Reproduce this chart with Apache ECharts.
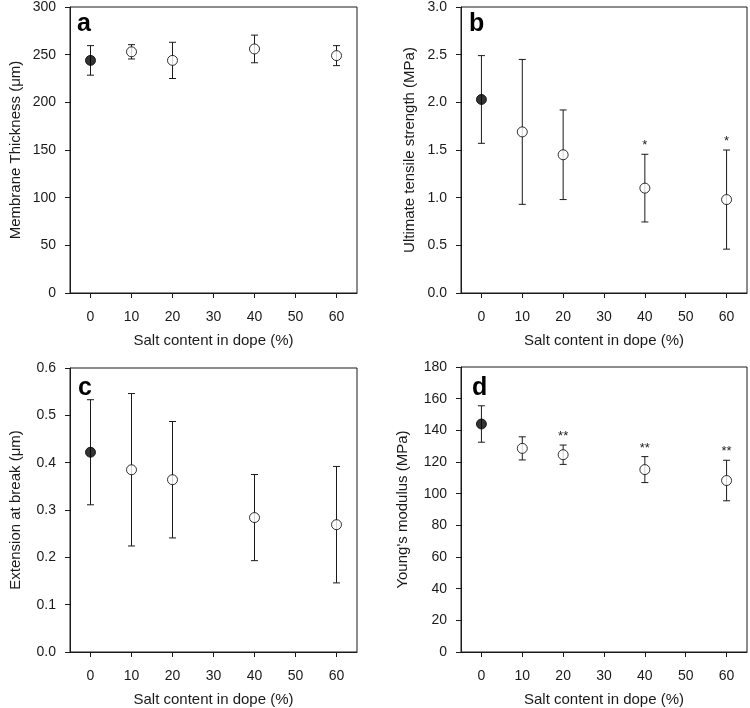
<!DOCTYPE html>
<html>
<head>
<meta charset="utf-8">
<script src="https://cdn.jsdelivr.net/npm/echarts@6/dist/echarts.min.js"></script>
<style>html,body{margin:0;padding:0;background:#fff}#main{width:750px;height:708px}</style>
</head>
<body>
<div id="main"></div>
<script>
// ---- data ----
const saltContent = [0, 10, 20, 40, 60];
const xTicks = [0, 10, 20, 30, 40, 50, 60];

const thicknessMean = [244, 253, 244, 256, 249];
const thicknessErr  = [15.5, 7.5, 19, 14.5, 10.5];
const thicknessSig  = ['', '', '', '', ''];

const utsMean = [2.03, 1.69, 1.45, 1.10, 0.98];
const utsErr  = [0.46, 0.76, 0.47, 0.355, 0.52];
const utsSig  = ['', '', '', '*', '*'];

const extMean = [0.422, 0.385, 0.364, 0.284, 0.269];
const extErr  = [0.111, 0.161, 0.123, 0.091, 0.123];
const extSig  = ['', '', '', '', ''];

const ymMean = [144, 128.6, 124.6, 115.2, 108.3];
const ymErr  = [11.5, 7.3, 6.1, 8.2, 12.8];
const ymSig  = ['', '', '**', '**', '**'];

const xTitle = 'Salt content in dope (%)';
const panels = [
  {letter: 'a', yName: 'Membrane Thickness (\u03bcm)', mean: thicknessMean, err: thicknessErr, sig: thicknessSig, yMax: 300, yInt: 50, dec: 0},
  {letter: 'b', yName: 'Ultimate tensile strength (MPa)', mean: utsMean, err: utsErr, sig: utsSig, yMax: 3, yInt: 0.5, dec: 1},
  {letter: 'c', yName: 'Extension at break (\u03bcm)', mean: extMean, err: extErr, sig: extSig, yMax: 0.6, yInt: 0.1, dec: 1},
  {letter: 'd', yName: "Young's modulus (MPa)", mean: ymMean, err: ymErr, sig: ymSig, yMax: 180, yInt: 20, dec: 0}
];

// ---- layout ----
const grids = [
  {left: 70, top: 7, width: 287, height: 286},
  {left: 461, top: 7, width: 286, height: 286},
  {left: 70, top: 368, width: 287, height: 286},
  {left: 461, top: 367, width: 286, height: 286}
];
const letterPos = [[77, 12], [469, 12], [78, 376], [472, 376]];
const yNameGap = [47, 44, 47, 51];

const FONT = 'Liberation Sans, Arial, sans-serif';
const C = '#1a1a1a';

const option = {
  animation: false,
  textStyle: {fontFamily: FONT, color: C},
  title: panels.map((p, i) => ({
    text: p.letter, left: letterPos[i][0], top: letterPos[i][1], padding: 0,
    textStyle: {fontFamily: FONT, fontSize: 25, fontWeight: 'bold', color: '#000'}
  })),
  grid: grids.map(g => Object.assign({show: true, borderColor: C, borderWidth: 1, backgroundColor: 'transparent'}, g)),
  xAxis: panels.map((p, i) => ({
    type: 'value', gridIndex: i, min: -5, max: 65,
    name: xTitle, nameLocation: 'middle', nameGap: 40,
    nameTextStyle: {fontFamily: FONT, fontSize: 15, color: C},
    axisLine: {onZero: false, lineStyle: {color: C, width: 1}},
    axisTick: {show: true, length: 5, customValues: xTicks, lineStyle: {color: C}},
    axisLabel: {customValues: xTicks, fontFamily: FONT, fontSize: 14, color: C, margin: 17},
    splitLine: {show: false}
  })),
  yAxis: panels.map((p, i) => ({
    type: 'value', gridIndex: i, min: 0, max: p.yMax, interval: p.yInt,
    name: p.yName, nameLocation: 'middle', nameGap: yNameGap[i],
    nameTextStyle: {fontFamily: FONT, fontSize: 15, color: C},
    axisLine: {show: true, onZero: false, lineStyle: {color: C, width: 1}},
    axisTick: {show: true, length: 5, lineStyle: {color: C}},
    axisLabel: {fontFamily: FONT, fontSize: 14, color: C, margin: 14,
      formatter: v => v.toFixed(p.dec)},
    splitLine: {show: false}
  })),
  series: []
};

panels.forEach((p, i) => {
  option.series.push({
    type: 'custom', xAxisIndex: i, yAxisIndex: i, z: 2,
    data: saltContent.map((x, k) => [x, p.mean[k], p.err[k]]),
    renderItem: (params, api) => {
      const x = api.value(0), m = api.value(1), e = api.value(2);
      const t = api.coord([x, m + e]);
      const b = api.coord([x, m - e]);
      const cw = 3.5;
      const st = {stroke: C, lineWidth: 1};
      const children = [
        {type: 'line', shape: {x1: t[0], y1: t[1], x2: b[0], y2: b[1]}, style: st},
        {type: 'line', shape: {x1: t[0] - cw, y1: t[1], x2: t[0] + cw, y2: t[1]}, style: st},
        {type: 'line', shape: {x1: b[0] - cw, y1: b[1], x2: b[0] + cw, y2: b[1]}, style: st}
      ];
      const s = p.sig[params.dataIndex];
      if (s) {
        children.push({type: 'text', x: t[0], y: t[1] - 2,
          style: {text: s, fill: C, font: '13px ' + FONT, align: 'center', verticalAlign: 'bottom'}});
      }
      return {type: 'group', children};
    }
  });
  option.series.push({
    type: 'scatter', xAxisIndex: i, yAxisIndex: i, z: 3,
    symbol: 'circle', symbolSize: 10,
    data: saltContent.map((x, k) => ({
      value: [x, p.mean[k]],
      itemStyle: {color: k === 0 ? '#000' : '#fff', borderColor: '#000', borderWidth: 1}
    }))
  });
});

const chart = echarts.init(document.getElementById('main'), null, {renderer: 'canvas'});
chart.setOption(option);
</script>
</body>
</html>
